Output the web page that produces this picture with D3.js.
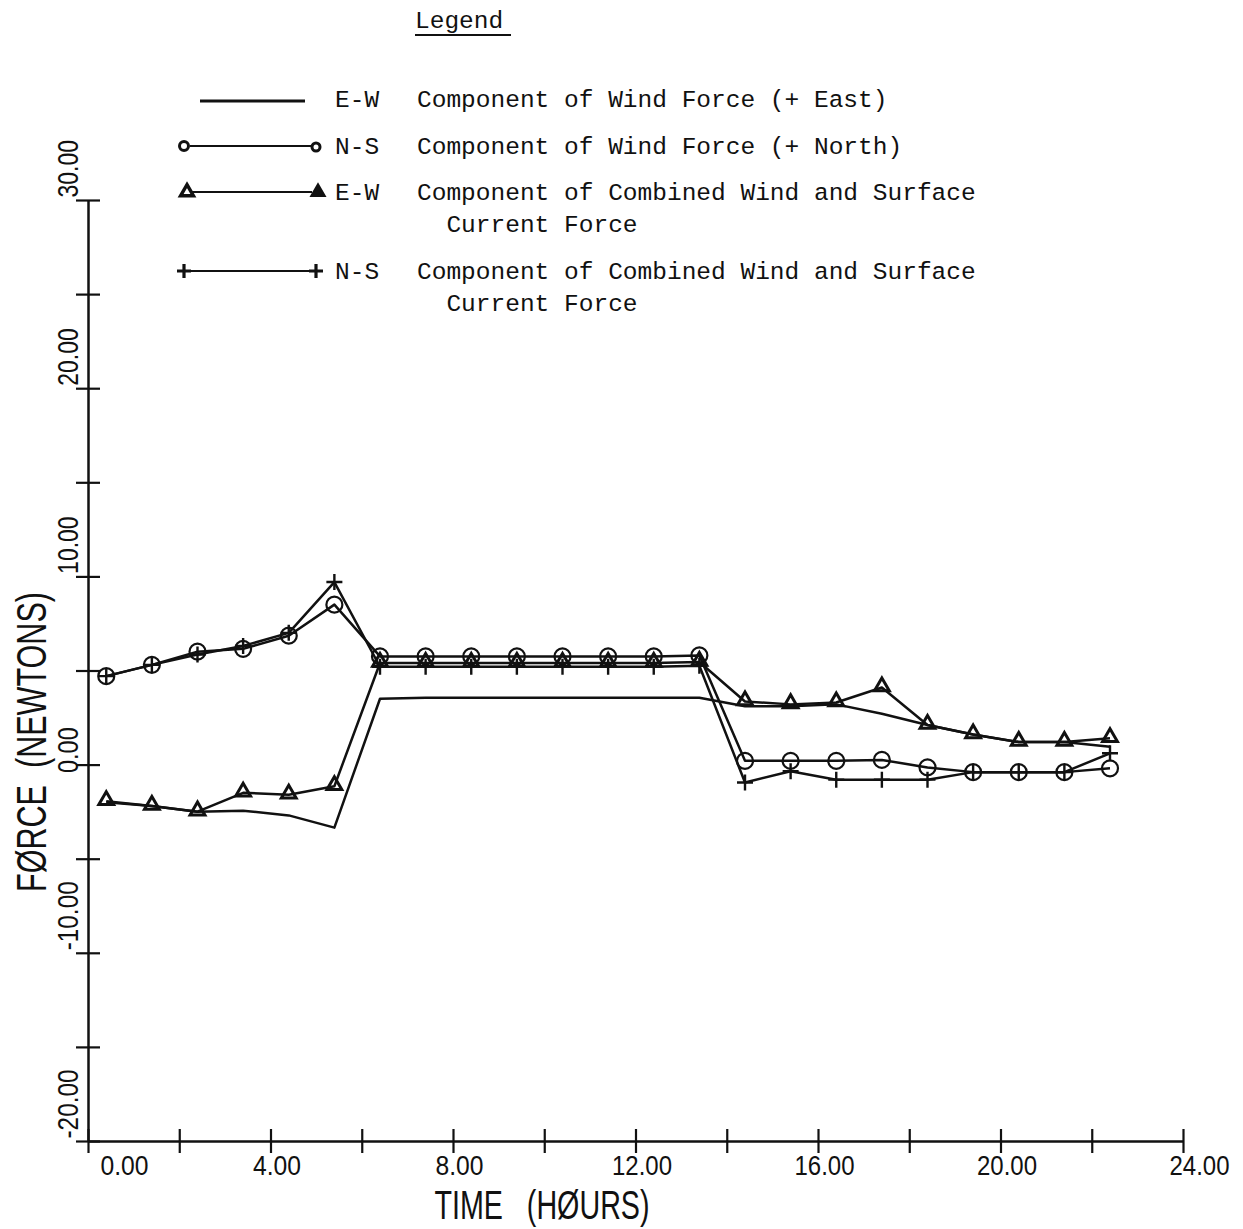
<!DOCTYPE html>
<html><head><meta charset="utf-8">
<script src="https://cdn.jsdelivr.net/npm/d3@7"></script>
<style>body{margin:0;background:#fff}</style>
</head><body>
<svg id="c" width="1243" height="1229"></svg>
<script>
// ---------- data ----------
const hours = [0.4,1.4,2.4,3.4,4.4,5.4,6.4,7.4,8.4,9.4,10.4,11.4,12.4,13.4,14.4,15.4,16.4,17.4,18.4,19.4,20.4,21.4,22.4];
const ewWind     = [-2.0,-2.2,-2.5,-2.45,-2.7,-3.35,3.5,3.55,3.55,3.55,3.55,3.55,3.55,3.55,3.1,3.1,3.2,2.7,2.1,1.6,1.2,1.2,0.95];
const nsWind     = [4.7,5.3,6.0,6.15,6.85,8.5,5.75,5.75,5.75,5.75,5.75,5.75,5.75,5.8,0.2,0.2,0.2,0.25,-0.15,-0.4,-0.4,-0.4,-0.2];
const ewCombined = [-1.95,-2.2,-2.5,-1.5,-1.6,-1.15,5.4,5.4,5.4,5.4,5.4,5.4,5.4,5.45,3.35,3.2,3.3,4.1,2.1,1.6,1.2,1.2,1.4];
const nsCombined = [4.7,5.3,5.85,6.3,7.0,9.7,5.2,5.2,5.2,5.2,5.2,5.2,5.2,5.25,-0.95,-0.35,-0.8,-0.8,-0.8,-0.4,-0.4,-0.4,0.6];

const xTickValues = [0,2,4,6,8,10,12,14,16,18,20,22,24];
const xTickLabels = ["0.00","","4.00","","8.00","","12.00","","16.00","","20.00","","24.00"];
const yTickValues = [-20,-15,-10,-5,0,5,10,15,20,25,30];
const yTickLabels = ["-20.00","","-10.00","","0.00","","10.00","","20.00","","30.00"];
const xTitle = "TIME   (HØURS)";
const yTitle = "FØRCE  (NEWTONS)";
const legendTitle = "Legend";
const legendCodes = ["E-W","N-S","E-W","N-S"];
const legendTexts = [
  ["Component of Wind Force (+ East)"],
  ["Component of Wind Force (+ North)"],
  ["Component of Combined Wind and Surface","  Current Force"],
  ["Component of Combined Wind and Surface","  Current Force"]
];

// ---------- setup ----------
const svg = d3.select("#c");
const x = d3.scaleLinear().domain([0,24]).range([88,1183]);
const y = d3.scaleLinear().domain([-20,30]).range([1141,200]);
const plotFont = "'Liberation Sans', 'DejaVu Sans', sans-serif";
const monoFont = "'Liberation Mono', 'DejaVu Sans Mono', monospace";
const ink = "#111";

function fitText(sel, perChar){
  sel.each(function(){ const t=d3.select(this).text(); if(t) d3.select(this).attr("textLength",t.length*perChar).attr("lengthAdjust","spacingAndGlyphs"); });
}

// x axis
const xa = svg.append("g").attr("transform","translate(0,"+y(-20)+")")
  .call(d3.axisBottom(x).tickValues(xTickValues).tickFormat((d,i)=>xTickLabels[i]).tickSize(12).tickSizeOuter(0));
xa.select(".domain").attr("stroke",ink).attr("stroke-width",2.5);
xa.selectAll(".tick line").attr("y1",-12).attr("y2",12).attr("stroke",ink).attr("stroke-width",2.2);
xa.selectAll(".tick text")
  .attr("y",0).attr("dy",0)
  .attr("transform",d => d===0 ? "translate(36,34)" : (d===24 ? "translate(16,34)" : "translate(6,34)"))
  .attr("font-family",plotFont).attr("font-size",28).attr("fill",ink)
  .attr("text-anchor","middle")
  .call(fitText,12);

// y axis
const ya = svg.append("g").attr("transform","translate("+x(0)+",0)")
  .call(d3.axisLeft(y).tickValues(yTickValues).tickFormat((d,i)=>yTickLabels[i]).tickSize(12).tickSizeOuter(0));
ya.select(".domain").attr("stroke",ink).attr("stroke-width",2.5);
ya.selectAll(".tick line").attr("x1",-12).attr("x2",12).attr("stroke",ink).attr("stroke-width",2.2);
ya.selectAll(".tick text")
  .attr("x",0).attr("dy",0)
  .attr("transform",d => d===0 ? "translate(-10,8) rotate(-90)" : "translate(-10,-3) rotate(-90)")
  .attr("font-family",plotFont).attr("font-size",29).attr("fill",ink)
  .attr("text-anchor","start")
  .call(fitText,11.5);

// axis titles
svg.append("text").attr("x",542).attr("y",1219).attr("text-anchor","middle")
  .attr("font-family",plotFont).attr("font-size",41).attr("fill",ink)
  .style("white-space","pre")
  .attr("textLength",215).attr("lengthAdjust","spacingAndGlyphs").text(xTitle);
svg.append("text").attr("transform","translate(46,742) rotate(-90)").attr("text-anchor","middle")
  .attr("font-family",plotFont).attr("font-size",42).attr("fill",ink)
  .style("white-space","pre")
  .attr("textLength",300).attr("lengthAdjust","spacingAndGlyphs").text(yTitle);

// ---------- series ----------
const series = [
  {vals: ewWind, marker: null},
  {vals: nsWind, marker: "circle"},
  {vals: ewCombined, marker: "triangle"},
  {vals: nsCombined, marker: "plus"}
];
const line = d3.line().x(d=>x(d[0])).y(d=>y(d[1]));
const tri = d3.symbol().type(d3.symbolTriangle).size(95);

function drawMarker(g, kind, cx, cy, scale){
  scale = scale || 1;
  if(kind==="circle"){
    g.append("circle").attr("cx",cx).attr("cy",cy).attr("r",8*scale)
      .attr("fill","none").attr("stroke",ink).attr("stroke-width",2.2);
  } else if(kind==="triangle"){
    g.append("path").attr("d",tri).attr("transform","translate("+cx+","+(cy-1)+") scale("+scale+")")
      .attr("fill","none").attr("stroke",ink).attr("stroke-width",3);
  } else if(kind==="plus"){
    const s=8*scale;
    g.append("path").attr("d","M"+(cx-s)+","+cy+"H"+(cx+s)+"M"+cx+","+(cy-s)+"V"+(cy+s))
      .attr("fill","none").attr("stroke",ink).attr("stroke-width",2.4);
  }
}

const sg = svg.append("g");
series.forEach(s=>{
  const pts = hours.map((h,i)=>[h,s.vals[i]]);
  sg.append("path").attr("d",line(pts)).attr("fill","none").attr("stroke",ink)
    .attr("stroke-width",2.5).attr("stroke-linejoin","round");
  if(s.marker) pts.forEach(p=>drawMarker(sg, s.marker, x(p[0]), y(p[1])));
});

// ---------- legend ----------
const lg = svg.append("g");
lg.append("text").attr("x",415).attr("y",28).attr("font-family",monoFont).attr("font-size",24.5)
  .attr("fill",ink).text(legendTitle);
lg.append("line").attr("x1",415).attr("x2",511).attr("y1",35).attr("y2",35).attr("stroke",ink).attr("stroke-width",2);
const rowY = [99,146,192,271];
const rowMarkers = [null,"circle","triangle","plus"];
rowY.forEach((ry,i)=>{
  const m = rowMarkers[i];
  if(!m){
    lg.append("line").attr("x1",200).attr("x2",305).attr("y1",ry+2).attr("y2",ry+2).attr("stroke",ink).attr("stroke-width",3);
  } else {
    lg.append("line").attr("x1",190).attr("x2",312).attr("y1",ry).attr("y2",ry).attr("stroke",ink).attr("stroke-width",2);
    if(m==="circle"){
      lg.append("circle").attr("cx",184).attr("cy",ry).attr("r",4.5).attr("fill","none").attr("stroke",ink).attr("stroke-width",3);
      lg.append("circle").attr("cx",316).attr("cy",ry+1).attr("r",4).attr("fill","none").attr("stroke",ink).attr("stroke-width",3);
    } else if(m==="triangle"){
      lg.append("path").attr("d",d3.symbol().type(d3.symbolTriangle).size(70)).attr("transform","translate(187,"+ry+")").attr("fill","none").attr("stroke",ink).attr("stroke-width",3.5);
      lg.append("path").attr("d",d3.symbol().type(d3.symbolTriangle).size(80)).attr("transform","translate(318,"+ry+")").attr("fill",ink).attr("stroke",ink).attr("stroke-width",2);
    } else {
      lg.append("path").attr("d","M177,"+ry+"H191M184,"+(ry-7)+"V"+(ry+7)).attr("stroke",ink).attr("stroke-width",3.2).attr("fill","none");
      lg.append("path").attr("d","M309,"+ry+"H323M316,"+(ry-7)+"V"+(ry+7)).attr("stroke",ink).attr("stroke-width",3.2).attr("fill","none");
    }
  }
  lg.append("text").attr("x",335).attr("y",ry+8).attr("font-family",monoFont).attr("font-size",24.5).attr("fill",ink).text(legendCodes[i]);
  legendTexts[i].forEach((t,j)=>{
    lg.append("text").attr("x",417).attr("y",ry+8+j*32).attr("font-family",monoFont).attr("font-size",24.5)
      .attr("fill",ink).attr("xml:space","preserve").style("white-space","pre").text(t);
  });
});
</script>
</body></html>
